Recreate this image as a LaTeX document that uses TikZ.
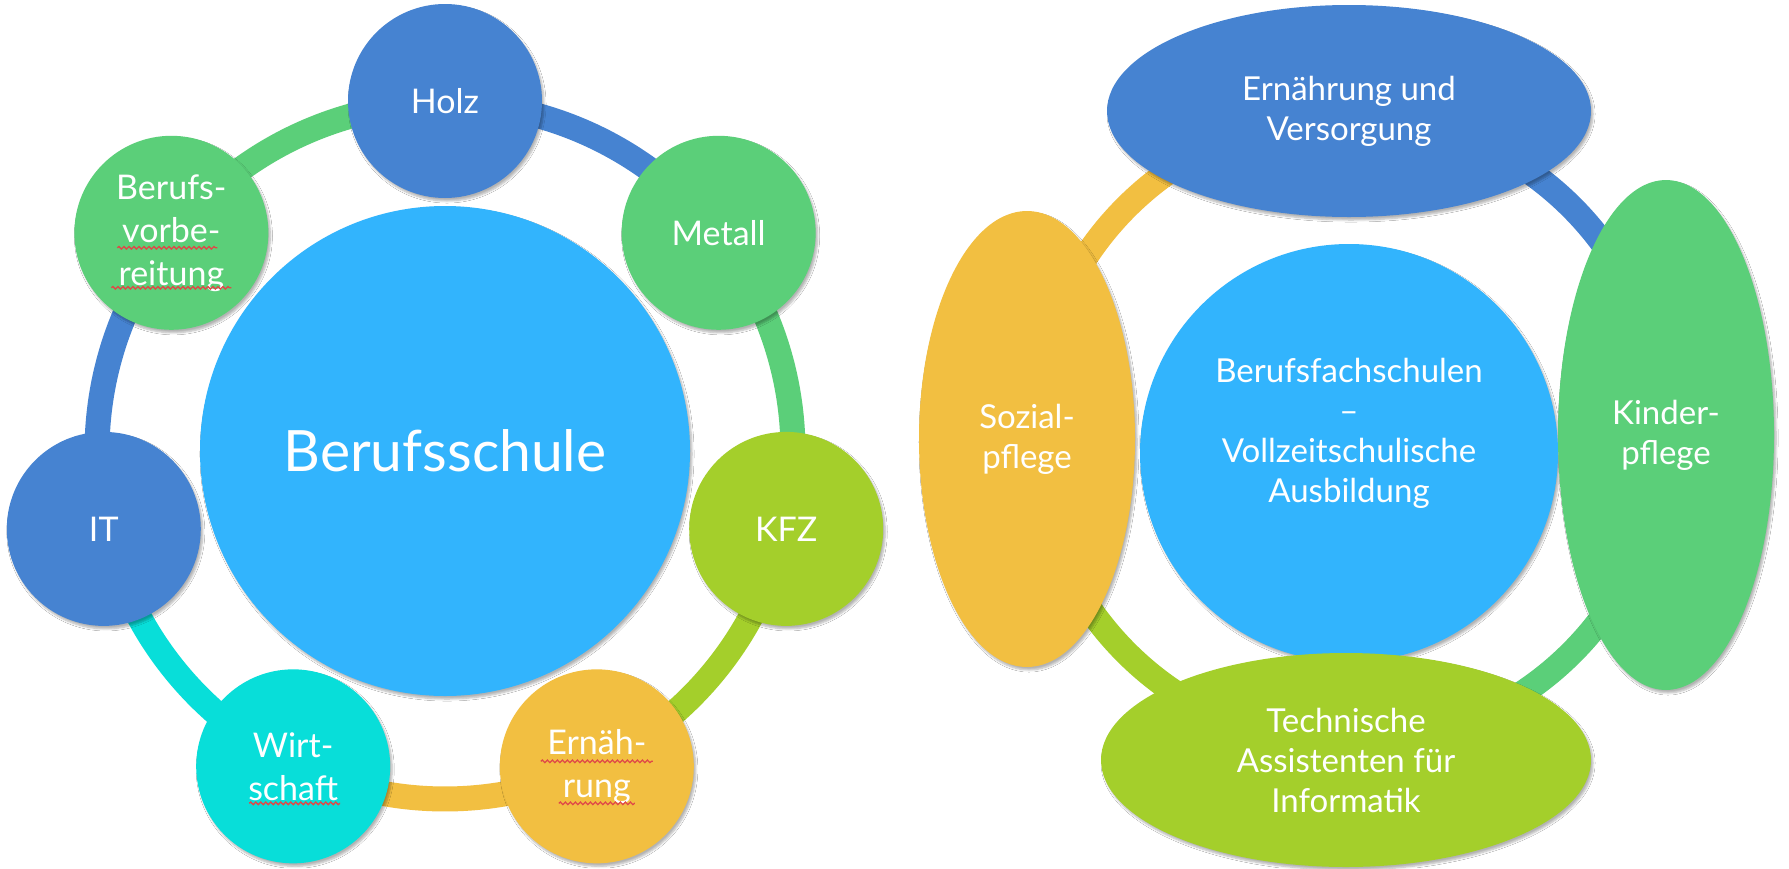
\documentclass[tikz,border=0pt]{standalone}
\usepackage{fontspec}
\setmainfont{Lato}
\usetikzlibrary{shapes.geometric,shadows.blur,calc,decorations.pathmorphing}
\definecolor{cblue}{HTML}{4683D1}
\definecolor{cgreen}{HTML}{5BCF79}
\definecolor{clime}{HTML}{A4CF2B}
\definecolor{cyellow}{HTML}{F2BF41}
\definecolor{ccyan}{HTML}{08DED9}
\definecolor{csky}{HTML}{32B4FD}
\definecolor{squig}{HTML}{E04848}
\begin{document}
\begin{tikzpicture}[x=1pt,y=-1pt,
  shade/.style={blur shadow={shadow xshift=2pt,shadow yshift=-3pt,shadow blur steps=6,shadow opacity=30}},
  sat/.style={circle,minimum size=194pt,inner sep=0pt,text=white,align=center,shade,
    font=\fontsize{34}{43}\selectfont},
  oval/.style={ellipse,inner sep=0pt,text=white,align=center,shade,
    font=\fontsize{33}{40}\selectfont},
  ring/.style={line width=25pt},
  wave/.style={squig,line width=1.3pt,decorate,decoration={snake,segment length=5pt,amplitude=1.3pt}},
  txt/.style={text=white,align=center,font=\fontsize{33}{40}\selectfont}]
\useasboundingbox[fill=white] (0,0) rectangle (1789,868);
% ---------------- left diagram ----------------
\coordinate (C1) at (445,451);
\foreach \a/\b/\c in {-90/-38.57/cblue,-38.57/12.86/cgreen,12.86/64.29/clime,
    64.29/115.71/cyellow,115.71/167.14/ccyan,167.14/218.57/cblue,218.57/270/cgreen}{
  \draw[ring,\c] ($(C1)+(\a:348)$) arc[start angle=\a,end angle=\b,radius=348];
}
\node[circle,fill=csky,minimum size=490pt,inner sep=0pt,text=white,shade,
  font=\fontsize{57}{60}\selectfont] (berufsschule) at (C1) {Berufsschule};
\node[sat,fill=cblue] (holz) at ($(C1)+(-90:350)$) {Holz};
\node[sat,fill=cgreen] (metall) at ($(C1)+(-38.57:350)$) {Metall};
\node[sat,fill=clime] (kfz) at ($(C1)+(12.86:350)$) {KFZ};
\node[sat,fill=cyellow] (ernaehrung) at ($(C1)+(64.29:350)$) {Ernäh-\\rung};
\node[sat,fill=ccyan] (wirtschaft) at ($(C1)+(115.71:350)$) {Wirt-\\schaft};
\node[sat,fill=cblue] (it) at ($(C1)+(167.14:350)$) {IT};
\node[sat,fill=cgreen] (vorbereitung) at ($(C1)+(218.57:350)$) {Berufs-\\vorbe-\\reitung};
% spell-check marks
\draw[wave] ($(vorbereitung)+(-54,15)$) -- ($(vorbereitung)+(46,15)$);
\draw[wave] ($(vorbereitung)+(-60,55)$) -- ($(vorbereitung)+(60,55)$);
\draw[wave] ($(ernaehrung)+(-56,-5)$) -- ($(ernaehrung)+(56,-5)$);
\draw[wave] ($(ernaehrung)+(-38,37)$) -- ($(ernaehrung)+(38,37)$);
\draw[wave] ($(wirtschaft)+(-44,37)$) -- ($(wirtschaft)+(47,37)$);
% ---------------- right diagram ----------------
\coordinate (C2) at (1349,453);
\coordinate (R2) at (1349,430);
\foreach \a/\b/\c in {180/270/cyellow,270/360/cblue,0/90/cgreen,90/180/clime}{
  \draw[ring,\c] ($(R2)+(\a:315)$) arc[start angle=\a,end angle=\b,radius=315];
}
\node[circle,fill=csky,minimum size=418pt,inner sep=0pt,shade] (bfs) at (C2) {};
\node[txt] (bfstext) at (1349,433) {Berufsfachschulen\\–\\Vollzeitschulische\\Ausbildung};
\node[oval,fill=cblue,minimum width=484pt,minimum height=212pt] (versorgung) at (1349,111) {Ernährung und\\Versorgung};
\node[oval,fill=cgreen,minimum width=216pt,minimum height=510pt] (kinder) at (1666,435) {Kinder-\\pflege};
\node[oval,fill=clime,minimum width=490pt,minimum height=214pt] (technik) at (1346,760) {Technische\\Assistenten für\\Informatik};
\node[oval,fill=cyellow,minimum width=216pt,minimum height=456pt] (sozial) at (1027,439) {Sozial-\\pflege};
\end{tikzpicture}
\end{document}
